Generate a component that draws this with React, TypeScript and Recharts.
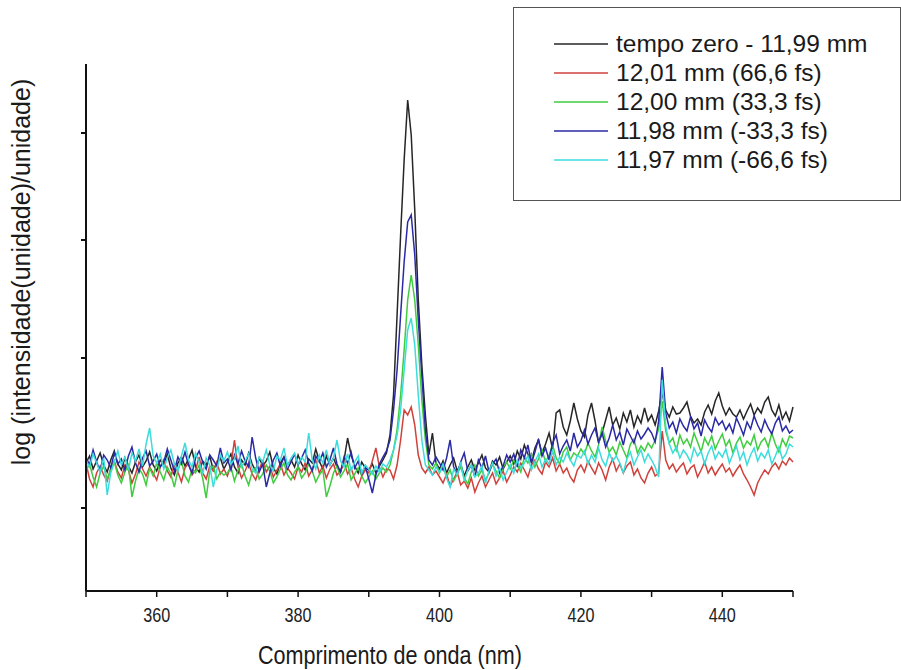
import { LineChart, Line, XAxis, YAxis, Legend } from "recharts";

// Wavelength grid (nm)
const wavelengths = [
  350, 350.5, 351, 351.5, 352, 352.5, 353, 353.5, 354, 354.5, 355, 355.5, 356, 356.5, 357, 357.5, 358, 358.5, 359, 359.5,
  360, 360.5, 361, 361.5, 362, 362.5, 363, 363.5, 364, 364.5, 365, 365.5, 366, 366.5, 367, 367.5, 368, 368.5, 369, 369.5,
  370, 370.5, 371, 371.5, 372, 372.5, 373, 373.5, 374, 374.5, 375, 375.5, 376, 376.5, 377, 377.5, 378, 378.5, 379, 379.5,
  380, 380.5, 381, 381.5, 382, 382.5, 383, 383.5, 384, 384.5, 385, 385.5, 386, 386.5, 387, 387.5, 388, 388.5, 389, 389.5,
  390, 390.5, 391, 391.5, 392, 392.5, 393, 393.5, 394, 394.5, 395, 395.5, 396, 396.5, 397, 397.5, 398, 398.5, 399, 399.5,
  400, 400.5, 401, 401.5, 402, 402.5, 403, 403.5, 404, 404.5, 405, 405.5, 406, 406.5, 407, 407.5, 408, 408.5, 409, 409.5,
  410, 410.5, 411, 411.5, 412, 412.5, 413, 413.5, 414, 414.5, 415, 415.5, 416, 416.5, 417, 417.5, 418, 418.5, 419, 419.5,
  420, 420.5, 421, 421.5, 422, 422.5, 423, 423.5, 424, 424.5, 425, 425.5, 426, 426.5, 427, 427.5, 428, 428.5, 429, 429.5,
  430, 430.5, 431, 431.5, 432, 432.5, 433, 433.5, 434, 434.5, 435, 435.5, 436, 436.5, 437, 437.5, 438, 438.5, 439, 439.5,
  440, 440.5, 441, 441.5, 442, 442.5, 443, 443.5, 444, 444.5, 445, 445.5, 446, 446.5, 447, 447.5, 448, 448.5, 449, 449.5,
  450,
];

// log intensity (arbitrary units)
const tempoZero = [
  128, 135, 122, 130, 138, 126, 119, 131, 140, 127, 121, 133, 125, 118, 129, 136, 124, 130, 139, 126,
  120, 131, 127, 137, 123, 116, 128, 134, 125, 132, 141, 124, 119, 130, 126, 135, 121, 128, 133, 122,
  129, 137, 124, 118, 131, 126, 138, 127, 120, 133, 125, 130, 139, 123, 117, 128, 134, 126, 131, 124,
  136, 127, 121, 132, 128, 142, 130, 122, 135, 126, 133, 124, 119, 131, 153, 136, 125, 118, 129, 123,
  121, 127, 118, 125, 131, 138, 156, 196, 276, 356, 431, 491, 456, 381, 291, 226, 176, 136, 158, 128,
  122, 130, 118, 126, 133, 120, 127, 115, 124, 131, 121, 128, 136, 123, 119, 130, 126, 134, 122, 129,
  135, 127, 140, 132, 146, 137, 129, 143, 151, 138, 147, 158, 142, 178, 181, 164, 156, 170, 188, 172,
  160, 154, 176, 188, 170, 148, 158, 171, 184, 166, 173, 162, 178, 169, 181, 164, 175, 168, 183, 170,
  176, 166, 180, 198, 181, 174, 184, 177, 178, 183, 189, 175, 168, 172, 166, 179, 186, 177, 190, 198,
  185, 176, 183, 177, 174, 181, 172, 180, 187, 176, 183, 178, 189, 194, 181, 175, 186, 172, 179, 170,
  184,
];

const mm1201 = [
  128, 112, 104, 118, 125, 116, 110, 123, 130, 119, 113, 126, 121, 108, 117, 129, 122, 115, 124, 118,
  111, 124, 131, 120, 114, 127, 119, 109, 123, 128, 116, 121, 134, 118, 112, 125, 120, 129, 117, 122,
  115, 126, 151, 124, 113, 120, 128, 117, 111, 122, 130, 119, 125, 114, 121, 127, 116, 123, 118, 112,
  124, 119, 128, 115, 121, 131, 118, 125, 113, 122, 127, 116, 120, 129, 117, 123, 112, 104, 115, 121,
  118, 130, 143, 124, 114, 122, 121, 112, 126, 151, 181, 176, 184, 166, 136, 123, 118, 124, 116, 120,
  114, 108, 117, 105, 112, 119, 106, 110, 103, 113, 99, 108, 115, 104, 111, 118, 107, 113, 120, 109,
  116, 124, 119, 128, 121, 114, 126, 131, 122, 117, 129, 124, 133, 120, 127, 118, 123, 114, 109, 121,
  126, 119, 130, 123, 117, 128, 121, 111, 124, 132, 120, 127, 118, 125, 129, 116, 122, 113, 108, 118,
  124, 115, 118, 160, 131, 122, 127, 119, 124, 128, 117, 123, 126, 114, 121, 129, 118, 124, 116, 122,
  127, 119, 123, 115, 121, 126, 117, 111, 104, 96, 108, 115, 121, 117, 124, 128, 122, 130, 126, 133,
  129,
];

const mm1200 = [
  120, 127, 114, 104, 118, 125, 112, 121, 129, 116, 108, 119, 126, 94, 110, 122, 117, 106, 123, 115,
  128, 119, 111, 124, 117, 104, 121, 130, 115, 109, 122, 118, 126, 113, 93, 120, 125, 112, 119, 116,
  118, 124, 110, 121, 127, 115, 106, 119, 123, 112, 117, 126, 120, 108, 114, 122, 128, 116, 111, 119,
  124, 113, 118, 127, 120, 109, 116, 121, 94, 105, 118, 125, 114, 120, 127, 111, 117, 123, 115, 108,
  114, 120, 112, 118, 123, 119, 126, 141, 161, 196, 241, 291, 316, 291, 246, 191, 151, 126, 122, 128,
  118, 125, 114, 121, 110, 117, 124, 113, 107, 119, 126, 115, 121, 111, 118, 127, 120, 113, 124, 129,
  122, 131, 126, 119, 134, 128, 137, 124, 132, 141, 129, 136, 146, 133, 127, 139, 144, 131, 138, 135,
  142, 137, 148, 140, 134, 146, 164, 150, 139, 144, 136, 149, 141, 133, 147, 152, 138, 145, 140, 148,
  143, 151, 162, 190, 160, 148, 153, 141, 156, 147, 152, 144, 158, 149, 139, 153, 146, 155, 142, 150,
  157, 145, 151, 138, 148, 154, 143, 150, 146, 156, 141, 149, 153, 144, 158, 147, 139, 152, 145, 155,
  153,
];

const mm1198 = [
  134, 126, 141, 129, 120, 136, 131, 123, 138, 127, 132, 121, 135, 144, 128, 119, 133, 140, 125, 130,
  137, 124, 129, 142, 131, 120, 134, 127, 139, 126, 118, 133, 140, 129, 122, 136, 131, 125, 143, 128,
  132, 121, 136, 127, 140, 130, 124, 154, 133, 119, 127, 104, 118, 131, 138, 125, 134, 122, 129, 137,
  126, 133, 141, 128, 120, 135, 129, 138, 124, 131, 143, 127, 119, 134, 128, 139, 123, 130, 117, 125,
  112, 98, 116, 127, 134, 140, 151, 181, 221, 276, 329, 369, 376, 336, 271, 216, 161, 131, 126, 134,
  128, 121, 133, 151, 124, 117, 129, 138, 120, 126, 114, 131, 123, 135, 119, 127, 132, 118, 125, 136,
  129, 137, 124, 141, 133, 146, 128, 139, 152, 135, 143, 131, 148, 156, 137, 145, 151, 140, 158, 144,
  150, 161, 147, 156, 163, 149, 158, 144, 153, 166, 151, 159, 146, 162, 155, 148, 160, 152, 157, 163,
  158, 149, 170, 224, 178, 163, 169, 158, 172, 165, 160, 174, 162, 168, 155, 171, 164, 159, 173, 166,
  170, 161, 167, 158, 173, 165, 156, 169, 162, 175, 166, 159, 171, 163, 157, 168, 174, 160, 165, 158,
  161,
];

const mm1197 = [
  131, 124, 137, 128, 119, 133, 96, 118, 129, 140, 126, 134, 121, 138, 130, 142, 125, 147, 163, 135,
  128, 137, 122, 133, 141, 127, 120, 135, 148, 131, 124, 138, 129, 117, 133, 126, 104, 121, 136, 130,
  139, 127, 132, 145, 124, 130, 137, 122, 118, 134, 129, 141, 126, 120, 135, 131, 143, 125, 133, 138,
  127, 134, 129, 158, 131, 122, 136, 128, 141, 126, 133, 151, 130, 124, 137, 120, 129, 135, 118, 126,
  122, 117, 125, 119, 127, 124, 131, 141, 156, 181, 221, 261, 273, 246, 196, 151, 126, 121, 116, 124,
  119, 127, 113, 104, 122, 116, 129, 110, 121, 126, 114, 118, 125, 108, 120, 128, 115, 123, 111, 119,
  126, 118, 131, 123, 128, 135, 121, 129, 137, 124, 132, 127, 140, 126, 134, 129, 138, 131, 125, 136,
  133, 140, 127, 136, 129, 143, 131, 125, 138, 130, 135, 128, 118, 132, 139, 126, 134, 141, 129, 137,
  131, 124, 114, 211, 165, 147, 138, 144, 133, 141, 136, 129, 143, 135, 140, 127, 138, 145, 132, 139,
  134, 142, 128, 137, 145, 131, 139, 126, 136, 143, 130, 138, 133, 141, 127, 135, 144, 132, 137, 147,
  144,
];

const xTicks = [350, 360, 370, 380, 390, 400, 410, 420, 430, 440, 450];
const xLabeled = [360, 380, 400, 420, 440];
const yTicks = [83, 233, 351, 458];

const series = [
  { key: "tempoZero", name: "tempo zero - 11,99 mm", color: "#262626", values: tempoZero },
  { key: "mm1201", name: "12,01 mm (66,6 fs)", color: "#d0413b", values: mm1201 },
  { key: "mm1200", name: "12,00 mm (33,3 fs)", color: "#3fcc3f", values: mm1200 },
  { key: "mm1198", name: "11,98 mm (-33,3 fs)", color: "#2a2aa6", values: mm1198 },
  { key: "mm1197", name: "11,97 mm (-66,6 fs)", color: "#3cdcdc", values: mm1197 },
];

const chartData = wavelengths.map((nm, i) => {
  const row: Record<string, number> = { nm };
  series.forEach((s) => {
    row[s.key] = s.values[i];
  });
  return row;
});

const sans = "'Liberation Sans', Arial, sans-serif";

// tick labels in the original are a condensed face; squeeze Liberation Sans instead
function XTick(props: any) {
  const { x, y, payload } = props;
  if (!xLabeled.includes(payload.value)) return <g />;
  return (
    <text
      x={x}
      y={y}
      dy={23}
      textAnchor="middle"
      fontFamily={sans}
      fontSize={20}
      fill="#222"
      textLength={27}
      lengthAdjust="spacingAndGlyphs"
    >
      {payload.value}
    </text>
  );
}

function NoLabel() {
  return <g />;
}

function renderLegend() {
  return (
    <div
      style={{
        boxSizing: "border-box",
        width: 388,
        height: 194,
        border: "1.5px solid #555",
        background: "#fff",
        paddingTop: 21,
        paddingLeft: 40,
        fontFamily: sans,
        fontSize: 24.5,
        color: "#1a1a1a",
        whiteSpace: "nowrap",
      }}
    >
      {series.map((s) => (
        <div key={s.key} style={{ display: "flex", alignItems: "center", height: 29.2 }}>
          <svg width={54} height={4} style={{ marginRight: 8 }}>
            <line x1={0} y1={2} x2={54} y2={2} stroke={s.color} strokeWidth={1.5} />
          </svg>
          <span>{s.name}</span>
        </div>
      ))}
    </div>
  );
}

export default function App() {
  return (
    <div style={{ position: "absolute", left: 0, top: 0, background: "#fff" }}>
      <LineChart
        width={901}
        height={670}
        data={chartData}
        margin={{ top: 64, right: 108, bottom: 19, left: 0 }}
      >
        <XAxis
          dataKey="nm"
          type="number"
          domain={[350, 450]}
          ticks={xTicks}
          interval={0}
          tick={<XTick />}
          tickSize={6}
          tickMargin={2}
          height={60}
          axisLine={{ stroke: "#111", strokeWidth: 2 }}
          tickLine={{ stroke: "#111", strokeWidth: 1.5 }}
          label={{
            content: () => (
              <text
                x={390}
                y={664}
                textAnchor="middle"
                fontFamily={sans}
                fontSize={25}
                fill="#1a1a1a"
                textLength={264}
                lengthAdjust="spacingAndGlyphs"
              >
                Comprimento de onda (nm)
              </text>
            ),
          }}
        />
        <YAxis
          type="number"
          domain={[0, 527]}
          ticks={yTicks}
          interval={0}
          width={86}
          tick={<NoLabel />}
          tickSize={5}
          axisLine={{ stroke: "#111", strokeWidth: 2 }}
          tickLine={{ stroke: "#111", strokeWidth: 2 }}
          label={{
            content: () => (
              <text
                x={30}
                y={272}
                transform="rotate(-90 30 272)"
                textAnchor="middle"
                fontFamily={sans}
                fontSize={25}
                fill="#1a1a1a"
              >
                log (intensidade(unidade)/unidade)
              </text>
            ),
          }}
        />
        <Legend
          layout="horizontal"
          verticalAlign="middle"
          align="center"
          content={renderLegend}
          wrapperStyle={{ position: "absolute", left: 513, top: 7, width: 388, height: 194 }}
        />
        {series.map((s) => (
          <Line
            key={s.key}
            type="linear"
            dataKey={s.key}
            name={s.name}
            stroke={s.color}
            strokeWidth={1.5}
            dot={false}
            isAnimationActive={false}
          />
        ))}
      </LineChart>
    </div>
  );
}
